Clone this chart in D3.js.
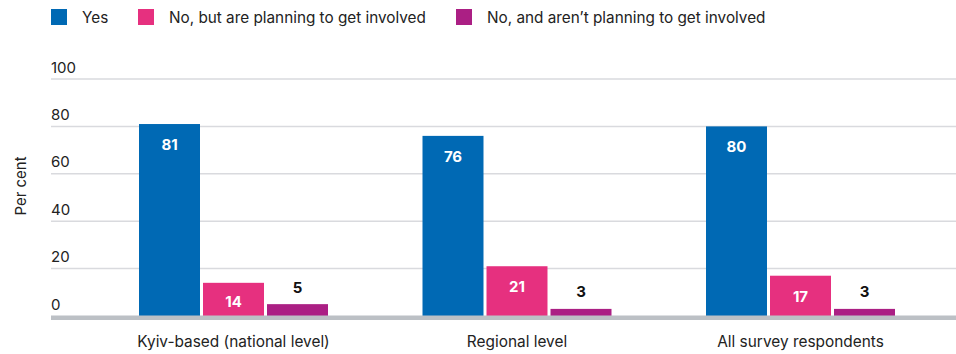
<!DOCTYPE html>
<html>
<head>
<meta charset="utf-8">
<script src="https://cdn.jsdelivr.net/npm/d3@7"></script>
<style>
  html, body { margin: 0; padding: 0; background: #fff; }
  svg { display: block; font-family: "Inter", "Roboto", sans-serif; }
</style>
</head>
<body>
<svg id="chart" width="956" height="354"></svg>
<script>
// Survey data: share of respondents (%)
const categories = ["Kyiv-based (national level)", "Regional level", "All survey respondents"];
const seriesNames = ["Yes", "No, but are planning to get involved", "No, and aren\u2019t planning to get involved"];
const yesValues = [81, 76, 80];
const planningValues = [14, 21, 17];
const notPlanningValues = [5, 3, 3];
const yTicks = [0, 20, 40, 60, 80, 100];
const colors = ["#0069b4", "#e6307f", "#ab1f84"];

const seriesValues = [yesValues, planningValues, notPlanningValues];
const rows = categories.map((c, i) => ({
  category: c,
  values: seriesNames.map((s, j) => ({ key: s, idx: j, value: seriesValues[j][i] }))
}));

const svg = d3.select("#chart");
const W = 956;
const gridLeft = 51;

const x0 = d3.scaleBand().domain(categories).range([91.75, 942.25])
  .paddingInner(1 / 3).paddingOuter(1 / 6);
const x1 = d3.scaleBand().domain(seriesNames).range([0, x0.bandwidth()])
  .paddingInner(0.047).paddingOuter(0);
const y = d3.scaleLinear().domain([0, 100]).range([316, 79]);

// Gridlines and tick labels
const grid = svg.append("g");
grid.selectAll("line").data(yTicks.filter(t => t > 0)).join("line")
  .attr("x1", gridLeft).attr("x2", W)
  .attr("y1", d => y(d)).attr("y2", d => y(d))
  .attr("stroke", "#d9dade").attr("stroke-width", 1.5);
grid.selectAll("text").data(yTicks).join("text")
  .attr("x", gridLeft).attr("y", d => y(d) - 6.5)
  .attr("font-size", 15).attr("fill", "#222")
  .text(d => d);

// Y axis title
svg.append("text")
  .attr("transform", `translate(25.5,186) rotate(-90)`)
  .attr("text-anchor", "middle").attr("font-size", 15).attr("fill", "#222")
  .text("Per cent");

// Bars
const groups = svg.append("g").selectAll("g").data(rows).join("g")
  .attr("transform", d => `translate(${x0(d.category)},0)`);

groups.selectAll("rect").data(d => d.values).join("rect")
  .attr("x", d => x1(d.key)).attr("width", x1.bandwidth())
  .attr("y", d => y(d.value)).attr("height", d => y(0) - y(d.value))
  .attr("fill", d => colors[d.idx]);

// Value labels: inside for the first two series, above for the third
groups.selectAll("text.val").data(d => d.values).join("text")
  .attr("class", "val")
  .attr("x", d => x1(d.key) + x1.bandwidth() / 2)
  .attr("y", d => d.idx === 2 ? y(d.value) - 11.5 : Math.min(y(d.value) + 26, y(0) - 9.5))
  .attr("text-anchor", "middle").attr("font-size", 15).attr("font-weight", 700)
  .attr("fill", d => d.idx === 2 ? "#111" : "#fff")
  .text(d => d.value);

// Baseline
svg.append("line")
  .attr("x1", gridLeft).attr("x2", W)
  .attr("y1", y(0) + 1.7).attr("y2", y(0) + 1.7)
  .attr("stroke", "#bcc0c5").attr("stroke-width", 4.5);

// Category labels
svg.append("g").selectAll("text").data(categories).join("text")
  .attr("x", d => x0(d) + x0.bandwidth() / 2).attr("y", 347)
  .attr("text-anchor", "middle").attr("font-size", 15.4).attr("fill", "#222")
  .text(d => d);

// Legend
const legendX = [51, 138, 456];
const legend = svg.append("g").selectAll("g").data(seriesNames).join("g")
  .attr("transform", (d, i) => `translate(${legendX[i]},9)`);
legend.append("rect").attr("width", 16).attr("height", 16)
  .attr("fill", (d, i) => colors[i]);
legend.append("text").attr("x", 31).attr("y", 13.5)
  .attr("font-size", 15.3).attr("fill", "#222")
  .text(d => d);
</script>
</body>
</html>
